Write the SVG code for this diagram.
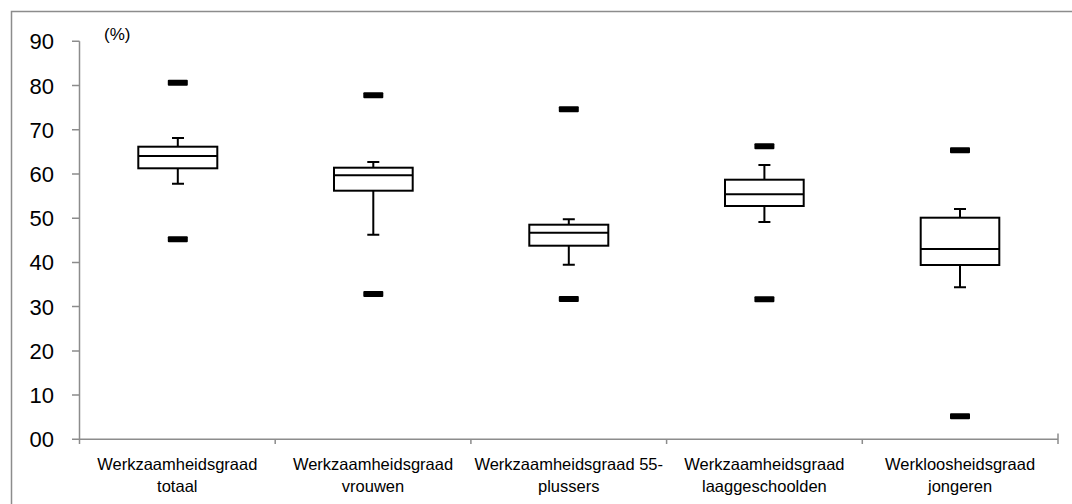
<svg xmlns="http://www.w3.org/2000/svg" width="1072" height="504" viewBox="0 0 1072 504">
<style>
.frame{fill:none;stroke:#8c8c8c;stroke-width:1.5}
.axis{fill:none;stroke:#8c8c8c;stroke-width:1.5}
.ylab{font-family:"Liberation Sans",Arial,sans-serif;font-size:22px;fill:#000;text-anchor:end}
.xlab{font-family:"Liberation Sans",Arial,sans-serif;font-size:16.5px;fill:#000;text-anchor:middle}
.unit{font-family:"Liberation Sans",Arial,sans-serif;font-size:17px;fill:#000}
.box{fill:#fff;stroke:#000;stroke-width:2}
.wh{fill:none;stroke:#000;stroke-width:2}
.out{fill:#000}
</style>
<rect width="1072" height="504" fill="#fff"/>
<path class="frame" d="M11.5,504 V11.5 H1072"/>
<g id="axes">
<path class="axis" d="M79.5,41.3 V439.3 H1058 M72,41.3 H79.5 M72,85.5 H79.5 M72,129.8 H79.5 M72,174 H79.5 M72,218.2 H79.5 M72,262.4 H79.5 M72,306.6 H79.5 M72,350.9 H79.5 M72,395.1 H79.5 M72,439.3 H79.5 M79.5,439.3 V444 M275.2,439.3 V444 M470.9,439.3 V444 M666.6,439.3 V444 M862.3,439.3 V444 M1058,433.5 V444"/>
<text class="ylab" x="54" y="49.3">90</text>
<text class="ylab" x="54" y="93.5">80</text>
<text class="ylab" x="54" y="137.8">70</text>
<text class="ylab" x="54" y="182">60</text>
<text class="ylab" x="54" y="226.2">50</text>
<text class="ylab" x="54" y="270.4">40</text>
<text class="ylab" x="54" y="314.6">30</text>
<text class="ylab" x="54" y="358.9">20</text>
<text class="ylab" x="54" y="403.1">10</text>
<text class="ylab" x="54" y="447.3">00</text>
<text class="unit" x="104" y="40">(%)</text>
</g>
<g id="connectors">
<path class="wh" d="M177.8,138 V146.7 M172,138 H184 M177.8,168.3 V183.7 M172,183.7 H184"/>
<path class="wh" d="M373.3,162 V167.7 M367.3,162 H379.3 M373.3,190.7 V234.7 M367.3,234.7 H379.3"/>
<path class="wh" d="M568.8,219.3 V224.7 M562.8,219.3 H574.8 M568.8,245.7 V264.7 M562.8,264.7 H574.8"/>
<path class="wh" d="M764.4,165 V179.7 M758.4,165 H770.4 M764.4,206 V222 M758.4,222 H770.4"/>
<path class="wh" d="M960,209 V217.7 M954,209 H966 M960,265 V287.3 M954,287.3 H966"/>
</g>
<g id="box1">
<rect class="box" x="138.3" y="146.7" width="79" height="21.6"/>
<path class="wh" d="M138.3,156 H217.3"/>
<rect class="out" x="167.8" y="79.7" width="20" height="6" rx="1"/>
<rect class="out" x="167.8" y="236.3" width="20" height="6" rx="1"/>
<text class="xlab" x="177.3" y="469.5">Werkzaamheidsgraad</text>
<text class="xlab" x="177.3" y="491.5">totaal</text>
</g>
<g id="box2">
<rect class="box" x="334" y="167.7" width="78.7" height="23"/>
<path class="wh" d="M334,175.3 H412.7"/>
<rect class="out" x="363.3" y="92.3" width="20" height="6" rx="1"/>
<rect class="out" x="363.3" y="291" width="20" height="6" rx="1"/>
<text class="xlab" x="373" y="469.5">Werkzaamheidsgraad</text>
<text class="xlab" x="373" y="491.5">vrouwen</text>
</g>
<g id="box3">
<rect class="box" x="529.3" y="224.7" width="79" height="21"/>
<path class="wh" d="M529.3,232.7 H608.3"/>
<rect class="out" x="558.8" y="106.3" width="20" height="6" rx="1"/>
<rect class="out" x="558.8" y="296" width="20" height="6" rx="1"/>
<text class="xlab" x="568.7" y="469.5">Werkzaamheidsgraad 55-</text>
<text class="xlab" x="568.7" y="491.5">plussers</text>
</g>
<g id="box4">
<rect class="box" x="725" y="179.7" width="78.7" height="26.3"/>
<path class="wh" d="M725,194.3 H803.7"/>
<rect class="out" x="754.4" y="143.3" width="20" height="6" rx="1"/>
<rect class="out" x="754.4" y="296.3" width="20" height="6" rx="1"/>
<text class="xlab" x="764.4" y="469.5">Werkzaamheidsgraad</text>
<text class="xlab" x="764.4" y="491.5">laaggeschoolden</text>
</g>
<g id="box5">
<rect class="box" x="920.7" y="217.7" width="78.6" height="47.3"/>
<path class="wh" d="M920.7,249 H999.3"/>
<rect class="out" x="950" y="147.3" width="20" height="6" rx="1"/>
<rect class="out" x="950" y="413.3" width="20" height="6" rx="1"/>
<text class="xlab" x="960.1" y="469.5">Werkloosheidsgraad</text>
<text class="xlab" x="960.1" y="491.5">jongeren</text>
</g>
</svg>
